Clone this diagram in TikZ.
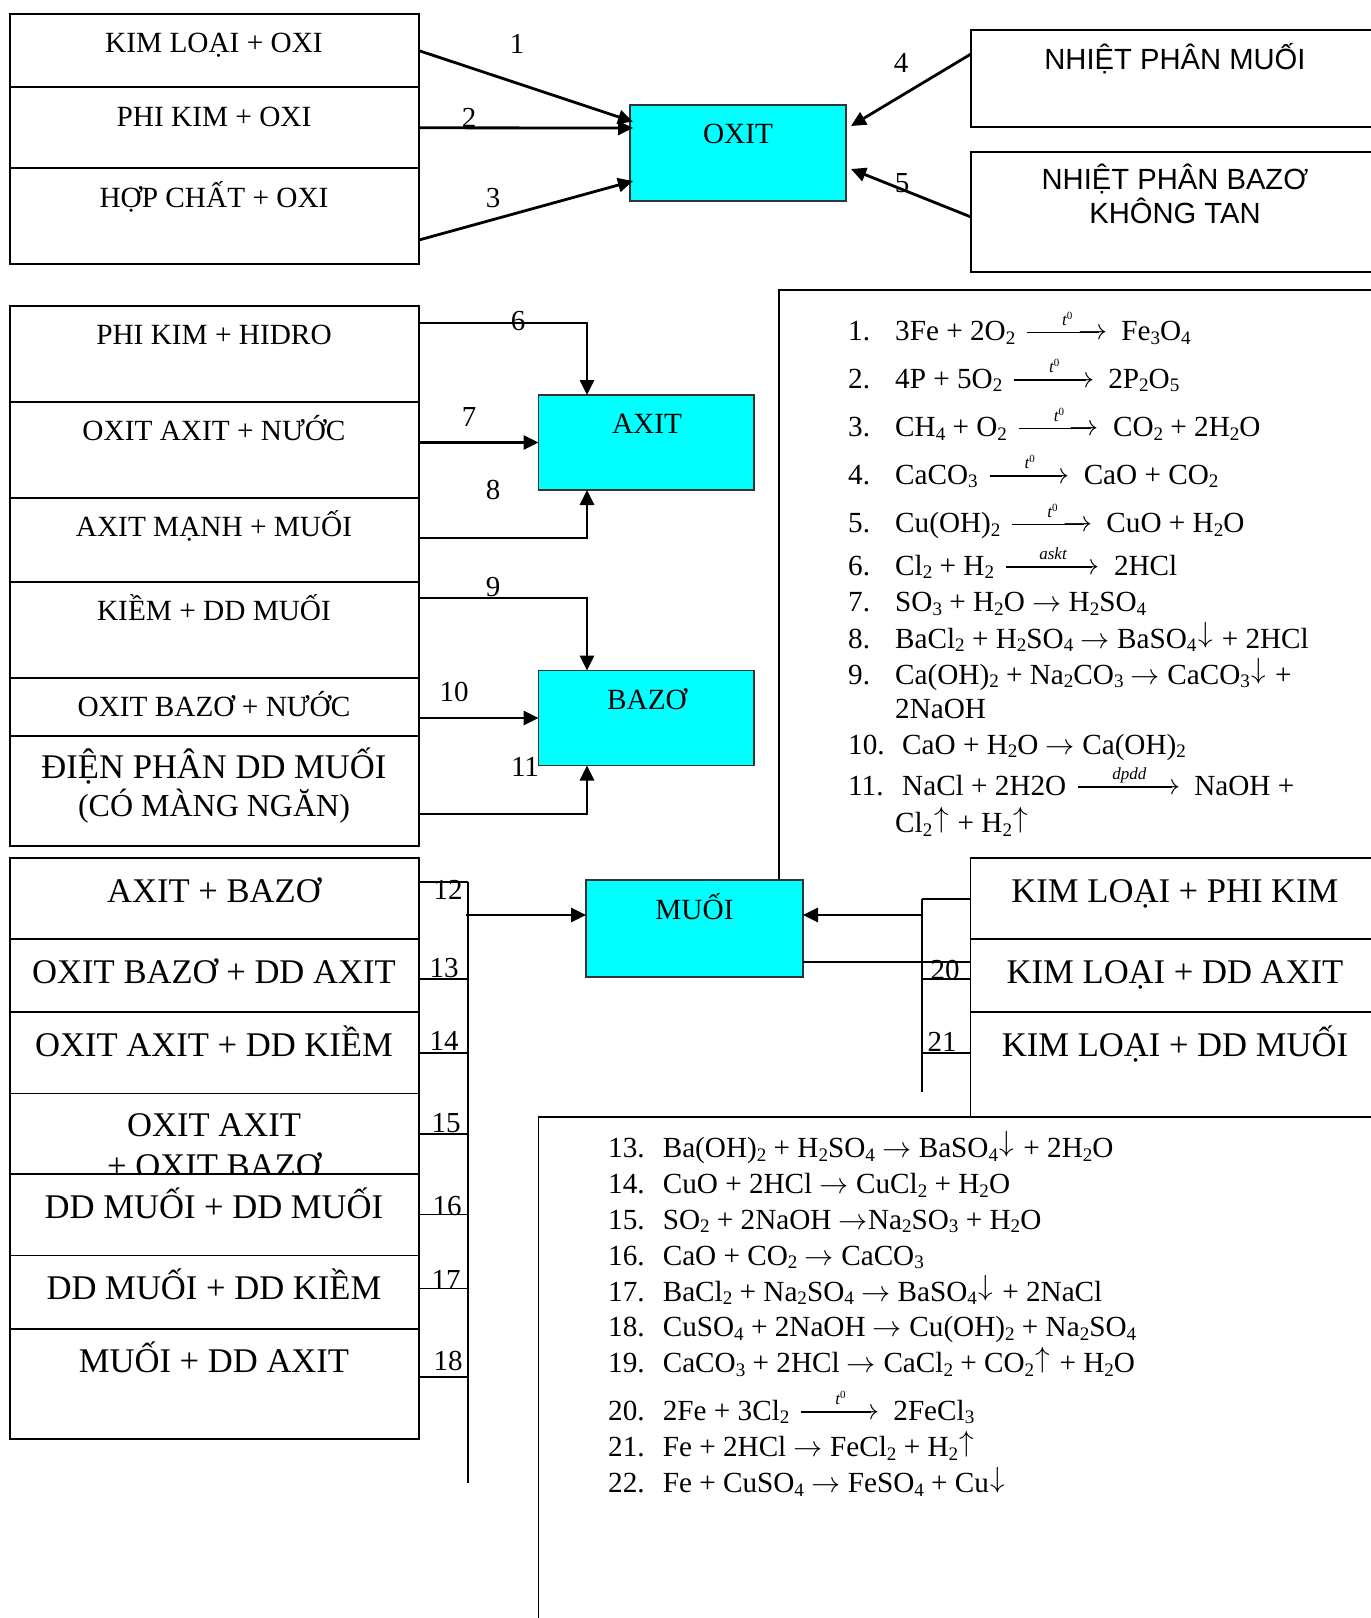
\RequirePackage{fix-cm}
\documentclass[tikz,border=0pt]{standalone}
\usepackage{fontspec}
\setmainfont{Liberation Serif}
\newfontfamily\sansf{Liberation Sans}
\usetikzlibrary{arrows.meta}
\definecolor{boxcyan}{RGB}{0,255,255}
\newcommand\sbb[1]{\raisebox{-3.5pt}{\fontsize{19.1}{19}\selectfont #1}}
\newcommand\ra{$\rightarrow$}
\newcommand\dn{\hbox to 18pt{\hss\raisebox{5.6pt}{$\downarrow$}\hss}}
\newcommand\up{\hbox to 18pt{\hss\raisebox{5.6pt}{$\uparrow$}\hss}}
\newcommand\lar[2]{\kern12pt\hbox to #1pt{\rlap{\raisebox{7.5pt}{\rule{\dimexpr #1pt-8pt\relax}{1.5pt}}}\rlap{\raisebox{15.5pt}{\hbox to #1pt{\hss\fontsize{17}{17}\selectfont\itshape #2\hss}}}\hss\raisebox{1pt}{\ra}}\kern14pt}
\newcommand\tz{t\raisebox{6pt}{\fontsize{11}{11}\selectfont\upshape 0}}
\tikzset{
  boxst/.style={draw=black,line width=1.8pt,fill=white,inner sep=0pt,outer sep=0pt,anchor=north west},
  cyanbox/.style={boxst,fill=boxcyan,draw=black!80},
  tm/.style={anchor=base,inner sep=0pt,font=\fontsize{29.3}{33}\selectfont},
  tl/.style={anchor=base,inner sep=0pt,font=\fontsize{34.6}{38}\selectfont},
  tk/.style={anchor=base,inner sep=0pt,font=\fontsize{32}{36}\selectfont},
  ts/.style={anchor=base,inner sep=0pt,font=\sansf\fontsize{29.2}{33}\selectfont},
  num/.style={anchor=base,inner sep=0pt,font=\fontsize{29}{33}\selectfont},
  eq/.style={anchor=base west,inner sep=0pt,font=\fontsize{29.2}{33}\selectfont},
  line/.style={line width=1.8pt},
  arr/.style={line width=2.8pt,-{Triangle[length=15pt,width=14pt]}}
}
\newcommand\bx[6][boxst]{\node[#1,minimum width=#5pt-#3pt,minimum height=#6pt-#4pt] (#2) at (#3,#4) {};}
\begin{document}
\begin{tikzpicture}[x=1pt,y=-1pt]
\useasboundingbox (0,0) rectangle (1371,1618);
\begin{scope}
\clip (0,0) rectangle (1371,1618);
% equation panels
\coordinate (pA0) at (779,880);
\coordinate (pA1) at (1400,290);
\draw[line] (pA0) |- (pA1);
\bx{panelB}{538.5}{1117}{1400}{1700}
% top-left
\bx{a1}{10}{14}{419}{87.3}
\bx{a2}{10}{87.3}{419}{168.3}
\bx{a3}{10}{168.3}{419}{264.3}
\node[tm] (ta1) at (214,52) {KIM LOẠI + OXI};
\node[tm] (ta2) at (214,126) {PHI KIM + OXI};
\node[tm] (ta3) at (214,207) {HỢP CHẤT + OXI};
\bx[cyanbox]{oxit}{630}{105}{846}{201}
\node[tm] (toxit) at (738,143.5) {OXIT};
\bx{n1}{971}{30}{1400}{127}
\bx{n2}{971}{152}{1400}{272}
\node[ts] (tn1) at (1175,69) {NHIỆT PHÂN MUỐI};
\node[ts] (tn2) at (1175,189.5) {NHIỆT PHÂN BAZƠ};
\node[ts] (tn3) at (1175,223.5) {KHÔNG TAN};
\coordinate (o1) at (633,121.7);
\coordinate (o2) at (633,128);
\coordinate (o3) at (633,181);
\coordinate (s3) at (419,240);
\coordinate (o4) at (851,126);
\coordinate (o5) at (851,169);
\coordinate (s4) at (971,54);
\coordinate (s5) at (971,217);
\draw[arr] (a1.east) -- (o1);
\draw[arr] (a2.east) -- (o2);
\draw[arr] (s3) -- (o3);
\draw[arr] (s4) -- (o4);
\draw[arr] (s5) -- (o5);
\node[num] (l1) at (517,53) {1};
\node[num] (l2) at (469,127) {2};
\node[num] (l3) at (493,207) {3};
\node[num] (l4) at (901,72) {4};
\node[num] (l5) at (902,192) {5};
% middle-left
\bx{b1}{10}{306}{419}{402}
\bx{b2}{10}{402}{419}{498}
\bx{b3}{10}{498}{419}{582}
\bx{b4}{10}{582}{419}{678}
\bx{b5}{10}{678}{419}{736}
\bx{b6}{10}{736}{419}{846}
\node[tm] (tb1) at (214,344) {PHI KIM + HIDRO};
\node[tm] (tb2) at (214,440.5) {OXIT AXIT + NƯỚC};
\node[tm] (tb3) at (214,536.5) {AXIT MẠNH + MUỐI};
\node[tm] (tb4) at (214,620) {KIỀM + DD MUỐI};
\node[tm] (tb5) at (214,716) {OXIT BAZƠ + NƯỚC};
\node[tl] (tb6) at (214,778) {ĐIỆN PHÂN DD MUỐI};
\node[tk] (tb7) at (214,816) {(CÓ MÀNG NGĂN)};
\bx[cyanbox]{axit}{538.5}{395}{754}{490}
\bx[cyanbox]{bazo}{538.5}{670.5}{754}{765.5}
\node[tm] (taxit) at (647,433) {AXIT};
\node[tm] (tbazo) at (647,709) {BAZƠ};
\coordinate (s6) at (419,323);
\coordinate (s8) at (419,538);
\coordinate (s9) at (419,598);
\coordinate (s11) at (419,814);
\coordinate (e6) at (587,395);
\coordinate (e8) at (587,490);
\coordinate (e9) at (587,670.5);
\coordinate (e11) at (587,765.5);
\draw[arr] (s6) -| (e6);
\draw[arr] (b2.east |- axit.west) -- (axit.west);
\draw[arr] (s8) -| (e8);
\draw[arr] (s9) -| (e9);
\draw[arr] (b5.east |- bazo.west) -- (bazo.west);
\draw[arr] (s11) -| (e11);
\node[num] (l6) at (518,330) {6};
\node[num] (l7) at (469,426) {7};
\node[num] (l8) at (493,499) {8};
\node[num] (l9) at (493,596) {9};
\node[num] (l10) at (454,701) {10};
\node[num] (l11) at (525,776) {11};
% lower-left
\bx{c1}{10}{858}{419}{939}
\bx{c2}{10}{939}{419}{1012}
\bx{c3}{10}{1012}{419}{1093.5}
\bx{c4}{10}{1093.5}{419}{1174}
\node[tl] (tc1) at (214,902) {AXIT + BAZƠ};
\node[tl] (tc2) at (214,983) {OXIT BAZƠ + DD AXIT};
\node[tl] (tc3) at (214,1056) {OXIT AXIT + DD KIỀM};
\node[tl] (tc4) at (214,1136) {OXIT AXIT};
\node[tl] (tc5) at (214,1177) {+ OXIT BAZƠ};
\bx{c5}{10}{1174}{419}{1255.5}
\bx{c6}{10}{1255.5}{419}{1329}
\bx{c7}{10}{1329}{419}{1439}
\node[tl] (tc6) at (214,1218) {DD MUỐI + DD MUỐI};
\node[tl] (tc7) at (214,1299) {DD MUỐI + DD KIỀM};
\node[tl] (tc8) at (214,1372) {MUỐI + DD AXIT};
% salt box
\bx[cyanbox]{muoi}{586}{880}{803}{977}
\node[tm] (tmuoi) at (694.5,919) {MUỐI};
% right group
\bx{d1}{970.5}{858}{1400}{939}
\bx{d2}{970.5}{939}{1400}{1012}
\bx{d3}{970.5}{1012}{1400}{1117}
\node[tl] (td1) at (1175,902) {KIM LOẠI + PHI KIM};
\node[tl] (td2) at (1175,983) {KIM LOẠI + DD AXIT};
\node[tl] (td3) at (1175,1056) {KIM LOẠI + DD MUỐI};
% bus lines
\coordinate (busL0) at (468,882);
\coordinate (busL1) at (468,1483);
\coordinate (busR0) at (922,899);
\coordinate (busR1) at (922,1092);
\draw[line] (busL0) -- (busL1);
\draw[line] (busR0) -- (busR1);
\draw[line] (419,882) -- (busL0);
\foreach \y in {979,1053,1134,1214.5,1288.5,1377} \draw[line] (419,\y) -- (468,\y);
\draw[line] (busR0) -- (970.5,899);
\draw[line] (922,979) -- (970.5,979);
\draw[line] (922,1053) -- (970.5,1053);
\draw[line] (803,962) -- (970.5,962);
\coordinate (inL) at (466,915);
\coordinate (inR) at (922,915);
\draw[arr] (inL) -- (muoi.west |- inL);
\draw[arr] (inR) -- (muoi.east |- inR);
\node[num] (l12) at (448,899) {12};
\node[num] (l13) at (444,977) {13};
\node[num] (l14) at (444,1050) {14};
\node[num] (l15) at (446,1132) {15};
\node[num] (l16) at (447,1215) {16};
\node[num] (l17) at (446,1289) {17};
\node[num] (l18) at (448,1370) {18};
\node[num] (l20) at (945,979) {20};
\node[num] (l21) at (942,1051) {21};
% equations A
\foreach \n/\y in {1/340.7,2/388,3/436.7,4/484,5/532.7,6/575,7/611.7,8/648,9/684,10/754,11/795}
  \node[eq] (n\n) at (848,\y) {\n.};
\node[eq] (e1) at (895,340.7) {3Fe + 2O\sbb{2}\lar{80}{\tz}Fe\sbb{3}O\sbb{4}};
\node[eq] (e2) at (895,388) {4P + 5O\sbb{2}\lar{80}{\tz}2P\sbb{2}O\sbb{5}};
\node[eq] (e3) at (895,436.7) {CH\sbb{4} + O\sbb{2}\lar{80}{\tz}CO\sbb{2} + 2H\sbb{2}O};
\node[eq] (e4) at (895,484) {CaCO\sbb{3}\lar{80}{\tz}CaO + CO\sbb{2}};
\node[eq] (e5) at (895,532.7) {Cu(OH)\sbb{2}\lar{80}{\tz}CuO + H\sbb{2}O};
\node[eq] (e6x) at (895,575) {Cl\sbb{2} + H\sbb{2}\lar{94}{askt}2HCl};
\node[eq] (e7) at (895,611.7) {SO\sbb{3} + H\sbb{2}O \ra{} H\sbb{2}SO\sbb{4}};
\node[eq] (e8x) at (895,648) {BaCl\sbb{2} + H\sbb{2}SO\sbb{4} \ra{} BaSO\sbb{4}\dn{} + 2HCl};
\node[eq] (e9x) at (895,684) {Ca(OH)\sbb{2} + Na\sbb{2}CO\sbb{3} \ra{} CaCO\sbb{3}\dn{} +};
\node[eq] (e9b) at (895,718) {2NaOH};
\node[eq] (e10) at (902,754) {CaO + H\sbb{2}O \ra{} Ca(OH)\sbb{2}};
\node[eq] (e11x) at (902,795) {NaCl + 2H2O\lar{102}{dpdd}NaOH +};
\node[eq] (e11b) at (895,832.7) {Cl\sbb{2}\up{} + H\sbb{2}\up{}};
% equations B
\foreach \n/\y in {13/1157.5,14/1193.5,15/1229,16/1265,17/1301,18/1336.7,19/1372.7,20/1420,21/1456.7,22/1492.7}
  \node[eq] (m\n) at (608,\y) {\n.};
\node[eq] (f13) at (662.6,1157.5) {Ba(OH)\sbb{2} + H\sbb{2}SO\sbb{4} \ra{} BaSO\sbb{4}\dn{} + 2H\sbb{2}O};
\node[eq] (f14) at (662.6,1193.5) {CuO + 2HCl \ra{} CuCl\sbb{2} + H\sbb{2}O};
\node[eq] (f15) at (662.6,1229) {SO\sbb{2} + 2NaOH \ra{}Na\sbb{2}SO\sbb{3} + H\sbb{2}O};
\node[eq] (f16) at (662.6,1265) {CaO + CO\sbb{2} \ra{} CaCO\sbb{3}};
\node[eq] (f17) at (662.6,1301) {BaCl\sbb{2} + Na\sbb{2}SO\sbb{4} \ra{} BaSO\sbb{4}\dn{} + 2NaCl};
\node[eq] (f18) at (662.6,1336.7) {CuSO\sbb{4} + 2NaOH \ra{} Cu(OH)\sbb{2} + Na\sbb{2}SO\sbb{4}};
\node[eq] (f19) at (662.6,1372.7) {CaCO\sbb{3} + 2HCl \ra{} CaCl\sbb{2} + CO\sbb{2}\up{} + H\sbb{2}O};
\node[eq] (f20) at (662.6,1420) {2Fe + 3Cl\sbb{2}\lar{78}{\tz}2FeCl\sbb{3}};
\node[eq] (f21) at (662.6,1456.7) {Fe + 2HCl \ra{} FeCl\sbb{2} + H\sbb{2}\up{}};
\node[eq] (f22) at (662.6,1492.7) {Fe + CuSO\sbb{4} \ra{} FeSO\sbb{4} + Cu\dn{}};
\end{scope}
\end{tikzpicture}
\end{document}
